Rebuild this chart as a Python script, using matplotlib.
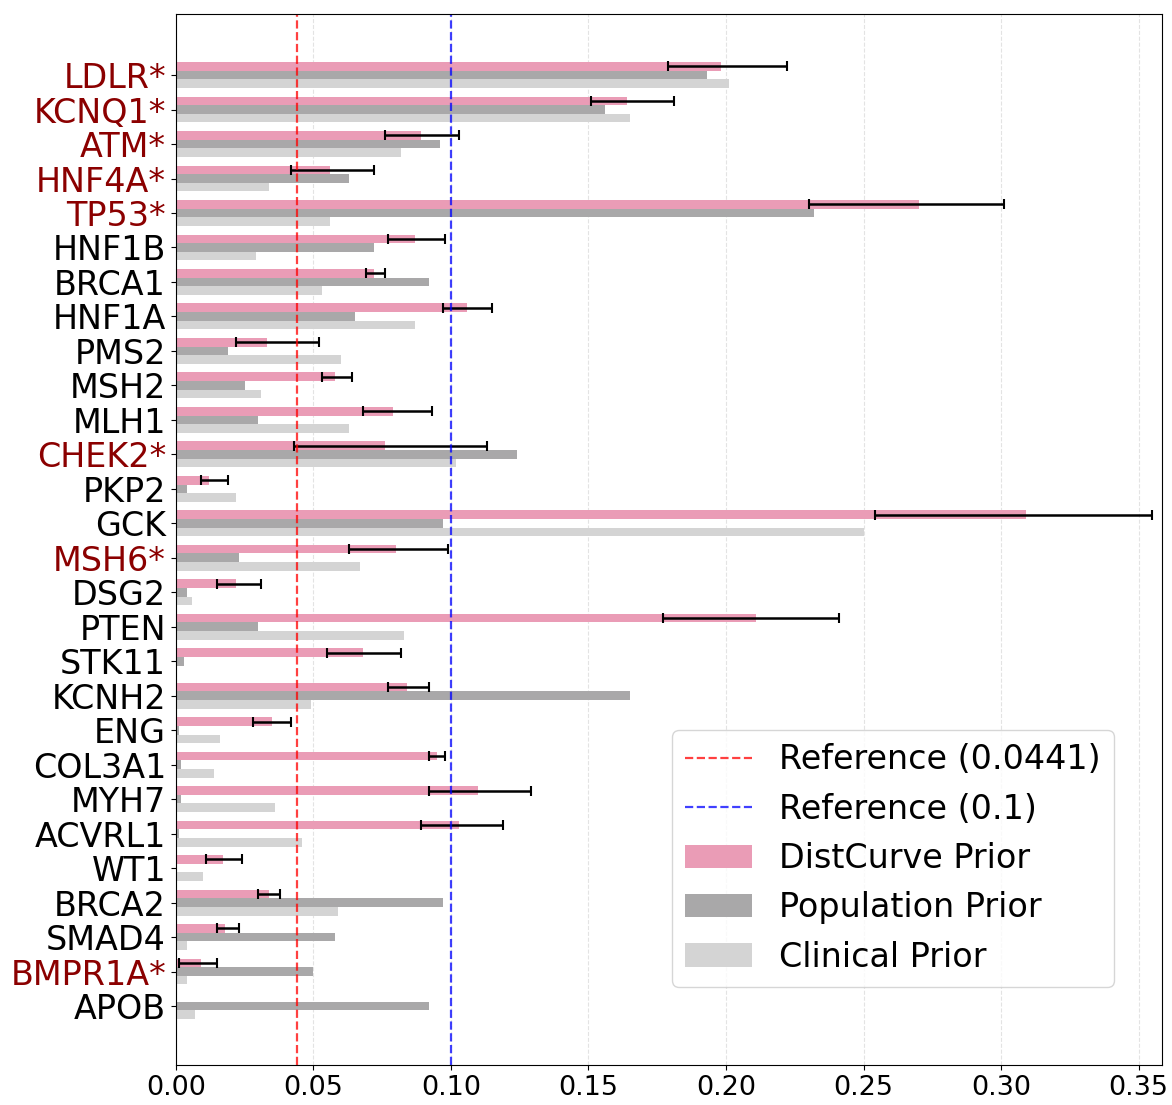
import numpy as np
import matplotlib
matplotlib.use("Agg")
import matplotlib.pyplot as plt

genes = ["LDLR*", "KCNQ1*", "ATM*", "HNF4A*", "TP53*", "HNF1B", "BRCA1", "HNF1A",
         "PMS2", "MSH2", "MLH1", "CHEK2*", "PKP2", "GCK", "MSH6*", "DSG2", "PTEN",
         "STK11", "KCNH2", "ENG", "COL3A1", "MYH7", "ACVRL1", "WT1", "BRCA2",
         "SMAD4", "BMPR1A*", "APOB"]

distcurve = [0.198, 0.164, 0.089, 0.056, 0.270, 0.087, 0.072, 0.106, 0.033, 0.058,
             0.079, 0.076, 0.012, 0.309, 0.080, 0.022, 0.211, 0.068, 0.084, 0.035,
             0.095, 0.110, 0.103, 0.017, 0.034, 0.018, 0.009, np.nan]
dist_low = [0.179, 0.151, 0.076, 0.042, 0.230, 0.077, 0.069, 0.097, 0.022, 0.053,
            0.068, 0.043, 0.009, 0.254, 0.063, 0.015, 0.177, 0.055, 0.077, 0.028,
            0.092, 0.092, 0.089, 0.011, 0.030, 0.015, 0.001, np.nan]
dist_high = [0.222, 0.181, 0.103, 0.072, 0.301, 0.098, 0.076, 0.115, 0.052, 0.064,
             0.093, 0.113, 0.019, 0.355, 0.099, 0.031, 0.241, 0.082, 0.092, 0.042,
             0.098, 0.129, 0.119, 0.024, 0.038, 0.023, 0.015, np.nan]
population = [0.193, 0.156, 0.096, 0.063, 0.232, 0.072, 0.092, 0.065, 0.019, 0.025,
              0.030, 0.124, 0.004, 0.097, 0.023, 0.004, 0.030, 0.003, 0.165, 0.001,
              0.002, 0.002, 0.001, 0.0, 0.097, 0.058, 0.050, 0.092]
clinical = [0.201, 0.165, 0.082, 0.034, 0.056, 0.029, 0.053, 0.087, 0.060, 0.031,
            0.063, 0.102, 0.022, 0.250, 0.067, 0.006, 0.083, 0.0, 0.049, 0.016,
            0.014, 0.036, 0.046, 0.010, 0.059, 0.004, 0.004, 0.007]

ref_lines = [0.0441, 0.1]

fig = plt.figure(figsize=(11.72, 11.05), dpi=100)
ax = fig.add_axes([0.150, 0.0362, 0.8415, 0.9511])

y = np.arange(len(genes))
h = 0.25
dc = np.array(distcurve)
lo = np.array(dist_low)
hi = np.array(dist_high)

b1 = ax.barh(y - h, np.nan_to_num(dc), height=h, color="#EA9CB6", label="DistCurve Prior")
b2 = ax.barh(y, population, height=h, color="#A9A8A9", label="Population Prior")
b3 = ax.barh(y + h, clinical, height=h, color="#D4D4D4", label="Clinical Prior")

ok = ~np.isnan(dc)
ax.errorbar(dc[ok], (y - h)[ok], xerr=[dc[ok] - lo[ok], hi[ok] - dc[ok]],
            fmt="none", ecolor="black", elinewidth=1.8, capsize=3.5, capthick=1.5)

l1 = ax.axvline(ref_lines[0], color="red", ls="--", lw=1.6, alpha=0.75,
                label=f"Reference ({ref_lines[0]})")
l2 = ax.axvline(ref_lines[1], color="blue", ls="--", lw=1.6, alpha=0.75,
                label=f"Reference ({ref_lines[1]})")

ax.set_yticks(y)
ax.set_yticklabels(genes, fontsize=24)
for lab in ax.get_yticklabels():
    if lab.get_text().endswith("*"):
        lab.set_color("darkred")
ax.tick_params(axis="x", labelsize=19.5)
ax.set_xlim(0, 0.3585)
ax.set_ylim(28.71, -1.77)
ax.grid(axis="x", ls="--", color="#DDDDDD", alpha=0.8)
ax.set_axisbelow(True)

ax.legend(handles=[l1, l2, b1, b2, b3], fontsize=24, labelspacing=0.49,
          loc="lower right", bbox_to_anchor=(0.951, 0.0742), borderaxespad=0)

fig.savefig("out.png")
